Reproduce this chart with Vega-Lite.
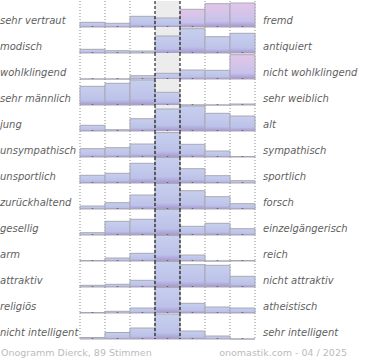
{
  "$schema": "https://vega.github.io/schema/vega-lite/v6.json",
  "padding": 0,
  "background": "white",
  "config": {"view": {"stroke": null}, "font": "DejaVu Sans"},
  "data": {"values": [
      {"o":1,"c":1,"v":4.7,"left":"sehr vertraut"},{"o":1,"c":2,"v":3.7},{"o":1,"c":3,"v":10.7},{"o":1,"c":4,"v":9},{"o":1,"c":5,"v":17.7,"t":"p"},{"o":1,"c":6,"v":23.3,"t":"p"},{"o":1,"c":7,"v":24,"t":"p","right":"fremd"},
      {"o":2,"c":1,"v":3.7,"left":"modisch"},{"o":2,"c":2,"v":2.3},{"o":2,"c":3,"v":2},{"o":2,"c":4,"v":17},{"o":2,"c":5,"v":24.3},{"o":2,"c":6,"v":16.3},{"o":2,"c":7,"v":19.7,"right":"antiquiert"},
      {"o":3,"c":1,"v":0,"left":"wohlklingend"},{"o":3,"c":2,"v":0},{"o":3,"c":3,"v":3.3},{"o":3,"c":4,"v":5.7},{"o":3,"c":5,"v":9},{"o":3,"c":6,"v":8.7},{"o":3,"c":7,"v":24.3,"t":"p","right":"nicht wohlklingend"},
      {"o":4,"c":1,"v":18.7,"left":"sehr männlich"},{"o":4,"c":2,"v":21.7},{"o":4,"c":3,"v":25},{"o":4,"c":4,"v":12.7},{"o":4,"c":5,"v":0},{"o":4,"c":6,"v":0},{"o":4,"c":7,"v":1,"right":"sehr weiblich"},
      {"o":5,"c":1,"v":5.7,"left":"\u00a0jung"},{"o":5,"c":2,"v":1.3},{"o":5,"c":3,"v":12.3},{"o":5,"c":4,"v":22},{"o":5,"c":5,"v":25},{"o":5,"c":6,"v":17.7},{"o":5,"c":7,"v":15,"right":"alt"},
      {"o":6,"c":1,"v":8.3,"left":"unsympathisch"},{"o":6,"c":2,"v":9.3},{"o":6,"c":3,"v":13},{"o":6,"c":4,"v":24.4},{"o":6,"c":5,"v":12.7},{"o":6,"c":6,"v":6},{"o":6,"c":7,"v":0.5,"right":"sympathisch"},
      {"o":7,"c":1,"v":7.7,"left":"unsportlich"},{"o":7,"c":2,"v":9.7},{"o":7,"c":3,"v":19.7},{"o":7,"c":4,"v":25.5},{"o":7,"c":5,"v":14.3},{"o":7,"c":6,"v":7.3},{"o":7,"c":7,"v":2.3,"right":"sportlich"},
      {"o":8,"c":1,"v":3,"left":"zurückhaltend"},{"o":8,"c":2,"v":6.3},{"o":8,"c":3,"v":14},{"o":8,"c":4,"v":25.5},{"o":8,"c":5,"v":18.3},{"o":8,"c":6,"v":12.3},{"o":8,"c":7,"v":5.3,"right":"forsch"},
      {"o":9,"c":1,"v":2.3,"left":"gesellig"},{"o":9,"c":2,"v":13.7},{"o":9,"c":3,"v":15.7},{"o":9,"c":4,"v":25.5},{"o":9,"c":5,"v":8.7},{"o":9,"c":6,"v":11.7},{"o":9,"c":7,"v":6.3,"right":"einzelgängerisch"},
      {"o":10,"c":1,"v":0.5,"left":"arm"},{"o":10,"c":2,"v":3},{"o":10,"c":3,"v":7.7},{"o":10,"c":4,"v":25.5},{"o":10,"c":5,"v":6},{"o":10,"c":6,"v":0},{"o":10,"c":7,"v":0.5,"right":"reich"},
      {"o":11,"c":1,"v":1.7,"left":"attraktiv"},{"o":11,"c":2,"v":2.7},{"o":11,"c":3,"v":6.7},{"o":11,"c":4,"v":25.5},{"o":11,"c":5,"v":22.3},{"o":11,"c":6,"v":21.7},{"o":11,"c":7,"v":10.7,"right":"nicht attraktiv"},
      {"o":12,"c":1,"v":0.5,"left":"religiös"},{"o":12,"c":2,"v":1.7},{"o":12,"c":3,"v":5},{"o":12,"c":4,"v":25.5},{"o":12,"c":5,"v":9.7},{"o":12,"c":6,"v":6},{"o":12,"c":7,"v":5,"right":"atheistisch"},
      {"o":13,"c":1,"v":1.5,"left":"nicht intelligent","foot":"Onogramm Dierck, 89 Stimmen"},{"o":13,"c":2,"v":6.5},{"o":13,"c":3,"v":11},{"o":13,"c":4,"v":25},{"o":13,"c":5,"v":8},{"o":13,"c":6,"v":3},{"o":13,"c":7,"v":0,"right":"sehr intelligent","foot":"onomastik.com - 04 / 2025"}
  ]},
  "facet": {"row": {"field": "o", "type": "ordinal", "header": null}},
  "spacing": 0,
  "bounds": "flush",
  "spec": {
    "width": 175,
    "height": 26,
    "encoding": {
      "x": {"field": "c", "type": "ordinal", "scale": {"type": "band", "domain": [1,2,3,4,5,6,7], "paddingInner": 0, "paddingOuter": 0}, "axis": null}
    },
    "layer": [
      {"transform": [{"filter": "datum.c == 4"}], "mark": {"type": "rect", "color": "#ececec"}},
      {"transform": [{"filter": "datum.c != 4 && datum.c != 5"}], "mark": {"type": "rule", "color": "#8a8a8a", "strokeDash": [1, 2], "strokeWidth": 1}, "encoding": {"x": {"field": "c", "type": "ordinal", "bandPosition": 0}}},
      {"transform": [{"filter": "datum.c == 7"}], "mark": {"type": "rule", "color": "#8a8a8a", "strokeDash": [1, 2], "strokeWidth": 1}, "encoding": {"x": {"field": "c", "type": "ordinal", "bandPosition": 1}}},
      {"transform": [{"filter": "datum.t != 'p'"}], "mark": {"type": "bar", "stroke": "#a8a8b4", "strokeWidth": 1, "color": {"gradient": "linear", "x1": 0, "y1": 0, "x2": 0, "y2": 1, "stops": [{"offset": 0, "color": "#c7cfee"}, {"offset": 0.75, "color": "#bcc2e8"}, {"offset": 1, "color": "#a695d0"}]}},
       "encoding": {"y": {"field": "v", "type": "quantitative", "scale": {"domain": [0, 26]}, "axis": null}}},
      {"transform": [{"filter": "datum.t == 'p'"}], "mark": {"type": "bar", "stroke": "#a8a8b4", "strokeWidth": 1, "color": {"gradient": "linear", "x1": 0, "y1": 0, "x2": 0, "y2": 1, "stops": [{"offset": 0, "color": "#e2c6e8"}, {"offset": 0.75, "color": "#c8c2ea"}, {"offset": 1, "color": "#a695d0"}]}},
       "encoding": {"y": {"field": "v", "type": "quantitative"}}},
      {"transform": [{"filter": "datum.c == 4 || datum.c == 5"}], "mark": {"type": "rule", "color": "#000000", "strokeDash": [3, 2], "strokeWidth": 1}, "encoding": {"x": {"field": "c", "type": "ordinal", "bandPosition": 0}}},
      {"mark": {"type": "rule", "color": "#000000", "strokeWidth": 1.6}, "encoding": {"y": {"datum": 0.4, "type": "quantitative"}}},
      {"transform": [{"filter": "datum.c == 1"}],
       "mark": {"type": "text", "align": "left", "baseline": "alphabetic", "dx": -80, "dy": -3, "fontSize": 10, "fontStyle": "italic", "color": "#5f5f5f"},
       "encoding": {"x": {"field": "c", "type": "ordinal", "bandPosition": 0}, "y": {"datum": 0, "type": "quantitative"}, "text": {"field": "left"}}},
      {"transform": [{"filter": "datum.c == 7"}],
       "mark": {"type": "text", "align": "left", "baseline": "alphabetic", "dx": 8, "dy": -3, "fontSize": 10, "fontStyle": "italic", "color": "#5f5f5f"},
       "encoding": {"x": {"field": "c", "type": "ordinal", "bandPosition": 1}, "y": {"datum": 0, "type": "quantitative"}, "text": {"field": "right"}}},
      {"transform": [{"filter": "datum.o == 13 && datum.c == 1"}],
       "mark": {"type": "text", "align": "left", "baseline": "alphabetic", "dx": -79, "dy": 17, "fontSize": 9.5, "color": "#bbbbbb"},
       "encoding": {"x": {"field": "c", "type": "ordinal", "bandPosition": 0}, "y": {"datum": 0, "type": "quantitative"}, "text": {"field": "foot"}}},
      {"transform": [{"filter": "datum.o == 13 && datum.c == 7"}],
       "mark": {"type": "text", "align": "right", "baseline": "alphabetic", "dx": 92, "dy": 17, "fontSize": 9.5, "color": "#bbbbbb"},
       "encoding": {"x": {"field": "c", "type": "ordinal", "bandPosition": 1}, "y": {"datum": 0, "type": "quantitative"}, "text": {"field": "foot"}}}
    ]
  }
}
